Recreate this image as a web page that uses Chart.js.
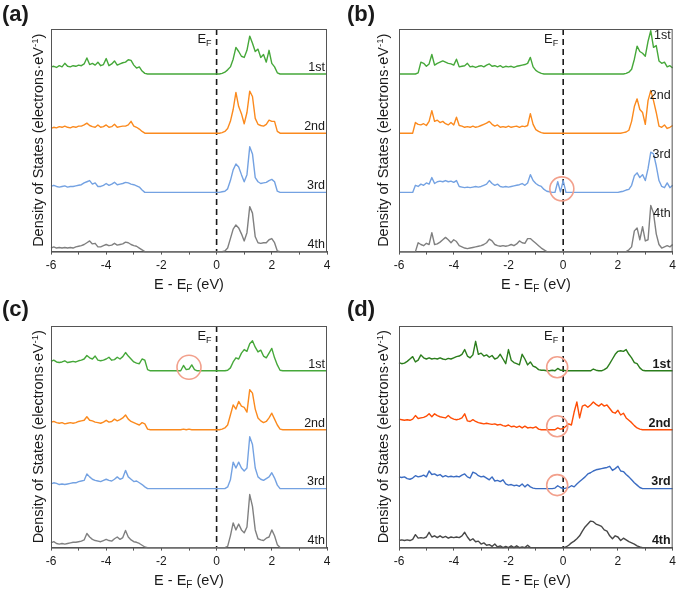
<!DOCTYPE html>
<html>
<head>
<meta charset="utf-8">
<script src="https://cdn.jsdelivr.net/npm/chart.js@4.4.1/dist/chart.umd.min.js"></script>
<style>
  body { margin: 0; background: #fff; }
  canvas { position: absolute; }
</style>
</head>
<body>
<canvas id="pa" width="340" height="295" style="left:0;top:0"></canvas>
<canvas id="pb" width="340" height="295" style="left:340px;top:0"></canvas>
<canvas id="pc" width="340" height="295" style="left:0;top:295px"></canvas>
<canvas id="pd" width="340" height="295" style="left:340px;top:295px"></canvas>
<script>
// energy grid, E - E_F (eV)
const energy = [
  -6.0,-5.9,-5.8,-5.7,-5.6,-5.5,-5.4,-5.3,-5.2,-5.1,
  -5.0,-4.9,-4.8,-4.7,-4.6,-4.5,-4.4,-4.3,-4.2,-4.1,
  -4.0,-3.9,-3.8,-3.7,-3.6,-3.5,-3.4,-3.3,-3.2,-3.1,
  -3.0,-2.9,-2.8,-2.7,-2.6,-2.5,-2.4,-2.3,-2.2,-2.1,
  -2.0,-1.9,-1.8,-1.7,-1.6,-1.5,-1.4,-1.3,-1.2,-1.1,
  -1.0,-0.9,-0.8,-0.7,-0.6,-0.5,-0.4,-0.3,-0.2,-0.1,
  0.0,0.1,0.2,0.3,0.4,0.5,0.6,0.7,0.8,0.9,
  1.0,1.1,1.2,1.3,1.4,1.5,1.6,1.7,1.8,1.9,
  2.0,2.1,2.2,2.3,2.4,2.5,2.6,2.7,2.8,2.9,
  3.0,3.1,3.2,3.3,3.4,3.5,3.6,3.7,3.8,3.9,4.0
];
const layerLabels = ["1st", "2nd", "3rd", "4th"];
const xTicks = [-6, -4, -2, 0, 2, 4];

// DOS curves (arbitrary units, one stacking step = 1)
const a1 = [0.12,0.13,0.11,0.14,0.12,0.18,0.13,0.12,0.14,0.13, 0.15,0.14,0.17,0.27,0.16,0.18,0.15,0.20,0.14,0.16, 0.26,0.14,0.17,0.22,0.15,0.17,0.19,0.20,0.24,0.23, 0.15,0.10,0.12,0.05,0.01,0,0,0,0,0, 0,0,0,0,0,0,0,0,0,0, 0,0,0,0,0,0,0,0,0,0, 0,0,0.01,0.03,0.07,0.12,0.25,0.45,0.38,0.30, 0.28,0.40,0.64,0.52,0.38,0.42,0.28,0.33,0.20,0.40, 0.18,0.12,0.02,0,0,0,0,0,0,0, 0,0,0,0,0,0,0,0,0,0,0];
const a2 = [0.08,0.10,0.09,0.11,0.10,0.12,0.10,0.09,0.11,0.10, 0.12,0.12,0.14,0.17,0.13,0.11,0.10,0.14,0.10,0.11, 0.14,0.10,0.11,0.15,0.10,0.11,0.12,0.12,0.14,0.20, 0.12,0.10,0.07,0.03,0,0,0,0,0,0, 0,0,0,0,0,0,0,0,0,0, 0,0,0,0,0,0,0,0,0,0, 0,0,0.01,0.03,0.08,0.20,0.40,0.69,0.45,0.33, 0.16,0.35,0.71,0.62,0.25,0.15,0.13,0.12,0.15,0.22, 0.20,0.20,0.03,0,0,0,0,0,0,0, 0,0,0,0,0,0,0,0,0,0,0];
const a3 = [0.10,0.12,0.10,0.09,0.10,0.11,0.09,0.10,0.10,0.11, 0.12,0.13,0.16,0.18,0.20,0.14,0.16,0.10,0.10,0.12, 0.15,0.12,0.14,0.17,0.13,0.14,0.15,0.17,0.16,0.14, 0.13,0.11,0.09,0.04,0,0,0,0,0,0, 0,0,0,0,0,0,0,0,0,0, 0,0,0,0,0,0,0,0,0,0, 0,0,0.01,0.02,0.06,0.20,0.38,0.48,0.43,0.30, 0.18,0.30,0.77,0.65,0.25,0.18,0.15,0.16,0.17,0.20, 0.22,0.18,0.02,0,0,0,0,0,0,0, 0,0,0,0,0,0,0,0,0,0,0];
const a4 = [0.06,0.08,0.06,0.07,0.06,0.07,0.06,0.07,0.06,0.08, 0.09,0.10,0.12,0.15,0.18,0.13,0.14,0.08,0.08,0.10, 0.12,0.10,0.11,0.14,0.11,0.12,0.13,0.16,0.15,0.12, 0.10,0.09,0.06,0.03,0,0,0,0,0,0, 0,0,0,0,0,0,0,0,0,0, 0,0,0,0,0,0,0,0,0,0, 0,0,0,0.01,0.06,0.22,0.38,0.45,0.40,0.30, 0.18,0.32,0.76,0.65,0.25,0.15,0.14,0.15,0.15,0.20, 0.22,0.15,0.01,0,0,0,0,0,0,0, 0,0,0,0,0,0,0,0,0,0,0];

const b1 = [0,0,0,0,0,0,0,0.02,0.20,0.18, 0.13,0.17,0.33,0.15,0.18,0.20,0.22,0.20,0.18,0.17, 0.15,0.25,0.12,0.13,0.14,0.18,0.12,0.13,0.11,0.13, 0.14,0.12,0.15,0.17,0.13,0.14,0.12,0.14,0.11,0.13, 0.12,0.13,0.11,0.13,0.14,0.15,0.16,0.18,0.28,0.12, 0.06,0.03,0.01,0,0,0,0,0,0,0, 0,0,0,0,0,0,0,0,0,0, 0,0,0,0,0,0,0,0,0,0, 0,0,0,0.01,0.03,0.08,0.25,0.47,0.38,0.35, 0.30,0.55,0.73,0.45,0.48,0.22,0.18,0.20,0.12,0.14,0.10];
const b2 = [0,0,0,0,0,0,0.18,0.15,0.14,0.16, 0.13,0.20,0.38,0.20,0.22,0.18,0.20,0.16,0.14,0.18, 0.14,0.27,0.13,0.12,0.10,0.11,0.10,0.12,0.10,0.11, 0.13,0.15,0.17,0.20,0.15,0.12,0.14,0.10,0.11,0.10, 0.12,0.10,0.11,0.12,0.10,0.12,0.11,0.13,0.33,0.15, 0.06,0.03,0.01,0,0,0,0,0,0,0, 0,0,0,0,0,0,0,0,0,0, 0,0,0,0,0,0,0,0,0,0, 0,0,0.01,0.02,0.05,0.20,0.45,0.58,0.40,0.35, 0.15,0.55,0.72,0.55,0.35,0.12,0.10,0.14,0.08,0.10,0.13];
const b3 = [0,0,0,0,0,0,0.12,0.10,0.14,0.12, 0.16,0.14,0.25,0.15,0.18,0.19,0.18,0.20,0.18,0.19, 0.17,0.20,0.10,0.09,0.08,0.09,0.08,0.09,0.10,0.09, 0.10,0.12,0.14,0.20,0.15,0.12,0.14,0.10,0.09,0.10, 0.09,0.10,0.11,0.12,0.13,0.15,0.12,0.16,0.30,0.20, 0.15,0.12,0.10,0.05,0.02,0.01,0,0,0.18,0.01, 0.20,0,0,0,0,0,0,0,0,0, 0,0,0,0,0,0,0,0,0,0, 0,0.01,0.02,0.04,0.05,0.12,0.28,0.33,0.25,0.30, 0.20,0.40,0.68,0.65,0.45,0.20,0.10,0.08,0.16,0.08,0.12];
const b4 = [0,0,0,0,0,0,0,0.15,0.12,0.10, 0.14,0.12,0.32,0.12,0.13,0.16,0.20,0.24,0.20,0.15, 0.20,0.17,0.10,0.08,0.06,0.05,0.06,0.07,0.08,0.09, 0.10,0.12,0.15,0.21,0.18,0.12,0.10,0.09,0.10,0.09, 0.10,0.12,0.10,0.13,0.18,0.15,0.14,0.22,0.22,0.18, 0.14,0.10,0.06,0.03,0,0,0,0,0,0, 0,0,0,0,0,0,0,0,0,0, 0,0,0,0,0,0,0,0,0,0, 0,0,0,0,0.03,0.08,0.35,0.40,0.20,0.42, 0.18,0.20,0.78,0.65,0.30,0.12,0.06,0.08,0.10,0.08,0.12];

const c1 = [0.16,0.18,0.15,0.14,0.15,0.17,0.14,0.15,0.16,0.15, 0.17,0.18,0.20,0.26,0.22,0.20,0.25,0.18,0.17,0.18, 0.20,0.23,0.18,0.19,0.23,0.20,0.24,0.31,0.25,0.20, 0.15,0.13,0.12,0.20,0.18,0.02,0,0,0,0, 0,0,0,0,0,0,0,0,0.09,0.02, 0.03,0.10,0.02,0,0,0,0,0,0,0, 0,0,0,0,0.01,0.05,0.15,0.22,0.20,0.30, 0.36,0.33,0.46,0.51,0.40,0.32,0.35,0.25,0.22,0.30, 0.38,0.22,0.10,0.01,0,0,0,0,0,0, 0,0,0,0,0,0,0,0,0,0,0];
const c2 = [0.13,0.14,0.12,0.11,0.12,0.10,0.11,0.12,0.11,0.12, 0.14,0.15,0.16,0.22,0.16,0.15,0.13,0.12,0.11,0.13, 0.16,0.13,0.14,0.18,0.15,0.17,0.20,0.25,0.18,0.14, 0.12,0.10,0.08,0.12,0.10,0.01,0,0,0,0, 0,0,0,0,0,0,0,0,0.01,0, 0.01,0,0,0,0,0,0,0,0,0, 0,0,0.01,0.03,0.08,0.25,0.42,0.35,0.48,0.40, 0.38,0.30,0.68,0.62,0.35,0.20,0.15,0.12,0.14,0.20, 0.28,0.18,0.08,0.01,0,0,0,0,0,0, 0,0,0,0,0,0,0,0,0,0,0];
const c3 = [0.08,0.10,0.09,0.07,0.08,0.07,0.08,0.09,0.10,0.10, 0.12,0.13,0.14,0.25,0.20,0.16,0.14,0.13,0.12,0.14, 0.16,0.14,0.13,0.16,0.20,0.16,0.18,0.31,0.20,0.16, 0.12,0.13,0.10,0.07,0.03,0,0,0,0,0, 0,0,0,0,0,0,0,0,0,0, 0,0,0,0,0,0,0,0,0,0, 0,0,0,0,0.03,0.15,0.45,0.35,0.45,0.35, 0.30,0.35,0.88,0.75,0.35,0.20,0.16,0.14,0.17,0.20, 0.27,0.18,0.06,0,0,0,0,0,0,0, 0,0,0,0,0,0,0,0,0,0,0];
const c4 = [0.08,0.10,0.07,0.06,0.07,0.06,0.07,0.08,0.09,0.09, 0.10,0.11,0.13,0.24,0.18,0.14,0.12,0.11,0.10,0.12, 0.14,0.12,0.11,0.15,0.18,0.14,0.17,0.29,0.18,0.13, 0.10,0.09,0.07,0.04,0.01,0,0,0,0,0, 0,0,0,0,0,0,0,0,0,0, 0,0,0,0,0,0,0,0,0,0, 0,0,0,0,0.02,0.20,0.42,0.30,0.40,0.30, 0.25,0.35,0.90,0.70,0.30,0.15,0.13,0.12,0.16,0.18, 0.30,0.20,0.05,0,0,0,0,0,0,0, 0,0,0,0,0,0,0,0,0,0,0];

const d1 = [0.14,0.12,0.13,0.16,0.20,0.24,0.15,0.18,0.27,0.22, 0.20,0.22,0.20,0.21,0.20,0.22,0.20,0.19,0.21,0.20, 0.22,0.24,0.25,0.28,0.36,0.25,0.22,0.27,0.50,0.28, 0.30,0.25,0.27,0.23,0.26,0.20,0.22,0.28,0.20,0.12, 0.36,0.18,0.14,0.12,0.10,0.28,0.20,0.10,0.15,0.08, 0.06,0.02,0.01,0.01,0,0,0.01,0,0.04,0.01, 0.01,0,0,0,0,0,0,0,0,0, 0,0.03,0.01,0,0,0.02,0.05,0.12,0.20,0.28, 0.33,0.34,0.33,0.36,0.28,0.22,0.14,0.12,0.05,0.01, 0,0,0,0,0,0,0,0,0,0,0];
const d2 = [0.18,0.17,0.16,0.17,0.16,0.18,0.24,0.19,0.20,0.21, 0.23,0.27,0.22,0.27,0.24,0.22,0.21,0.20,0.24,0.20, 0.18,0.17,0.18,0.20,0.27,0.15,0.14,0.17,0.14,0.12, 0.11,0.10,0.11,0.10,0.09,0.10,0.08,0.09,0.07,0.06, 0.08,0.05,0.06,0.04,0.06,0.03,0.06,0.03,0.04,0.03, 0.05,0.01,0,0,0,0,0,0,0.03,0.01, 0.02,0.06,0.10,0.08,0.30,0.47,0.20,0.40,0.42,0.38, 0.42,0.47,0.43,0.40,0.44,0.40,0.42,0.36,0.30,0.28, 0.33,0.25,0.28,0.20,0.16,0.12,0.07,0.03,0.01,0, 0,0,0,0,0,0,0,0,0,0,0];
const d3 = [0.20,0.19,0.20,0.17,0.16,0.18,0.22,0.20,0.21,0.23, 0.20,0.30,0.24,0.25,0.22,0.24,0.20,0.22,0.20,0.21, 0.20,0.21,0.20,0.23,0.25,0.20,0.18,0.28,0.26,0.22, 0.20,0.21,0.18,0.15,0.20,0.13,0.14,0.12,0.15,0.08, 0.06,0.07,0.05,0.06,0.04,0.08,0.03,0.07,0.03,0.01, 0,0,0,0,0,0,0,0.01,0.05,0.02, 0,0.01,0.02,0.05,0.03,0.08,0.12,0.16,0.20,0.25, 0.27,0.30,0.32,0.33,0.34,0.35,0.36,0.38,0.31,0.34, 0.38,0.30,0.29,0.24,0.20,0.15,0.10,0.06,0.02,0, 0,0,0,0,0,0,0,0,0,0,0];
const d4 = [0.12,0.13,0.12,0.13,0.12,0.14,0.22,0.16,0.17,0.16, 0.18,0.26,0.18,0.20,0.17,0.20,0.17,0.19,0.16,0.18, 0.17,0.18,0.17,0.20,0.26,0.18,0.12,0.15,0.10,0.11, 0.06,0.08,0.04,0.05,0.02,0.06,0.01,0.03,0,0.02, 0,0.03,0,0.03,0,0.01,0,0.04,0,0, 0,0,0,0,0,0,0,0,0,0, 0,0.01,0.04,0.08,0.11,0.15,0.20,0.28,0.35,0.40, 0.45,0.44,0.40,0.38,0.36,0.30,0.28,0.20,0.15,0.20, 0.18,0.12,0.16,0.13,0.10,0.08,0.06,0.03,0.01,0, 0,0,0,0,0,0,0,0,0,0,0];

// highlighted states near E_F: [energy, layer index]
const circlesB = [[-0.05, 2]];
const circlesC = [[-1.0, 0]];
const circlesD = [[-0.22, 0], [-0.22, 1], [-0.22, 2]];

const FONT = '"Liberation Sans", Arial, sans-serif';
const lightColors = ["#46a83a", "#fb8a1e", "#74a2e2", "#808080"];
const darkColors = ["#2b7d1c", "#ff4d05", "#3b6cc2", "#474747"];

function richText(ctx, parts, x, y, align) {
  let w = 0;
  parts.forEach(p => { ctx.font = p.font; w += ctx.measureText(p.t).width; });
  let cx = align === "center" ? x - w / 2 : align === "right" ? x - w : x;
  ctx.textAlign = "left";
  parts.forEach(p => {
    ctx.font = p.font;
    ctx.fillText(p.t, cx, y + (p.dy || 0));
    cx += ctx.measureText(p.t).width;
  });
}

const decor = {
  id: "decor",
  beforeDatasetsDraw(chart) {
    const { ctx, chartArea: a, scales: { x } } = chart;
    const x0 = x.getPixelForValue(0);
    ctx.save();
    ctx.strokeStyle = "#1a1a1a";
    ctx.lineWidth = 1.6;
    ctx.setLineDash([6, 4]);
    ctx.beginPath();
    ctx.moveTo(x0, a.top);
    ctx.lineTo(x0, a.bottom);
    ctx.stroke();
    ctx.restore();
  },
  afterDraw(chart, args, o) {
    const { ctx, chartArea: a, scales: { x, y } } = chart;
    ctx.save();
    ctx.strokeStyle = "#555";
    ctx.lineWidth = 1;
    ctx.strokeRect(a.left + 0.5, a.top + 0.5, a.right - a.left - 1, a.bottom - a.top);

    ctx.fillStyle = "#1a1a1a";
    ctx.textBaseline = "alphabetic";
    // panel letter
    ctx.font = "bold 22px " + FONT;
    ctx.textAlign = "left";
    ctx.fillText(o.letter, o.letterX, 21);

    // E_F label
    const x0 = x.getPixelForValue(0);
    richText(ctx, [
      { t: "E", font: "13px " + FONT },
      { t: "F", font: "9px " + FONT, dy: 3 }
    ], x0 - 5, a.top + 14, "right");

    // layer labels
    ctx.font = (o.boldLabels ? "bold " : "") + "12.5px " + FONT;
    ctx.textAlign = "right";
    layerLabels.forEach((t, i) => {
      ctx.fillText(t, a.right - 2, y.getPixelForValue(3 - i + o.labelLift) - 2);
    });

    // x title
    richText(ctx, [
      { t: "E - E", font: "14.5px " + FONT },
      { t: "F", font: "10px " + FONT, dy: 3 },
      { t: " (eV)", font: "14.5px " + FONT }
    ], (a.left + a.right) / 2, a.bottom + 37, "center");

    // y title
    ctx.translate(o.yTitleX, (a.top + a.bottom) / 2);
    ctx.rotate(-Math.PI / 2);
    richText(ctx, [
      { t: "Density of States (electrons\u00b7eV", font: "14.5px " + FONT },
      { t: "-1", font: "9.5px " + FONT, dy: -5 },
      { t: ")", font: "14.5px " + FONT }
    ], 0, 5, "center");
    ctx.setTransform(1, 0, 0, 1, 0, 0);

    // circles
    ctx.strokeStyle = "#f2a08c";
    ctx.lineWidth = 1.6;
    o.circles.forEach(([e, layer]) => {
      ctx.beginPath();
      ctx.arc(x.getPixelForValue(e), y.getPixelForValue(3 - layer + 0.06), o.radius, 0, Math.PI * 2);
      ctx.stroke();
    });
    ctx.restore();
  }
};

function makePanel(id, curves, colors, pad, extra) {
  new Chart(document.getElementById(id), {
    type: "line",
    data: {
      datasets: curves.map((vals, i) => ({
        label: layerLabels[i],
        data: energy.map((e, k) => ({ x: e, y: vals[k] + (3 - i) })),
        borderColor: colors[i],
        borderWidth: 1.4,
        borderJoinStyle: "round",
        pointRadius: 0,
        tension: 0,
        clip: 3
      }))
    },
    options: {
      responsive: false,
      animation: false,
      devicePixelRatio: 1,
      layout: { padding: pad },
      plugins: {
        legend: { display: false },
        tooltip: { enabled: false },
        decor: extra
      },
      scales: {
        x: {
          type: "linear",
          min: -6,
          max: 4,
          ticks: {
            stepSize: 1,
            autoSkip: false,
            maxRotation: 0,
            padding: 4,
            color: "#1a1a1a",
            font: { family: FONT, size: 12 },
            callback: v => (xTicks.includes(v) ? String(v) : "")
          },
          grid: { drawOnChartArea: false, drawTicks: true, tickLength: 3, color: "#555" },
          border: { display: true, color: "#555" }
        },
        y: { display: false, min: 0, max: 3.76 }
      }
    },
    plugins: [decor]
  });
}

makePanel("pa", [a1, a2, a3, a4], lightColors,
  { left: 51, right: 13, top: 29, bottom: 18 },
  { letter: "(a)", letterX: 2, yTitleX: 38, labelLift: 0.02, boldLabels: false, circles: [], radius: 12 });
makePanel("pb", [b1, b2, b3, b4], lightColors,
  { left: 59, right: 5, top: 29, bottom: 18 },
  { letter: "(b)", letterX: 7, yTitleX: 43, labelLift: 0.55, boldLabels: false, circles: circlesB, radius: 12 });
makePanel("pc", [c1, c2, c3, c4], lightColors,
  { left: 51, right: 13, top: 31, bottom: 17 },
  { letter: "(c)", letterX: 2, yTitleX: 38, labelLift: 0.02, boldLabels: false, circles: circlesC, radius: 12 });
makePanel("pd", [d1, d2, d3, d4], darkColors,
  { left: 59, right: 5, top: 31, bottom: 17 },
  { letter: "(d)", letterX: 7, yTitleX: 43, labelLift: 0.02, boldLabels: true, circles: circlesD, radius: 10.5 });
</script>
</body>
</html>
